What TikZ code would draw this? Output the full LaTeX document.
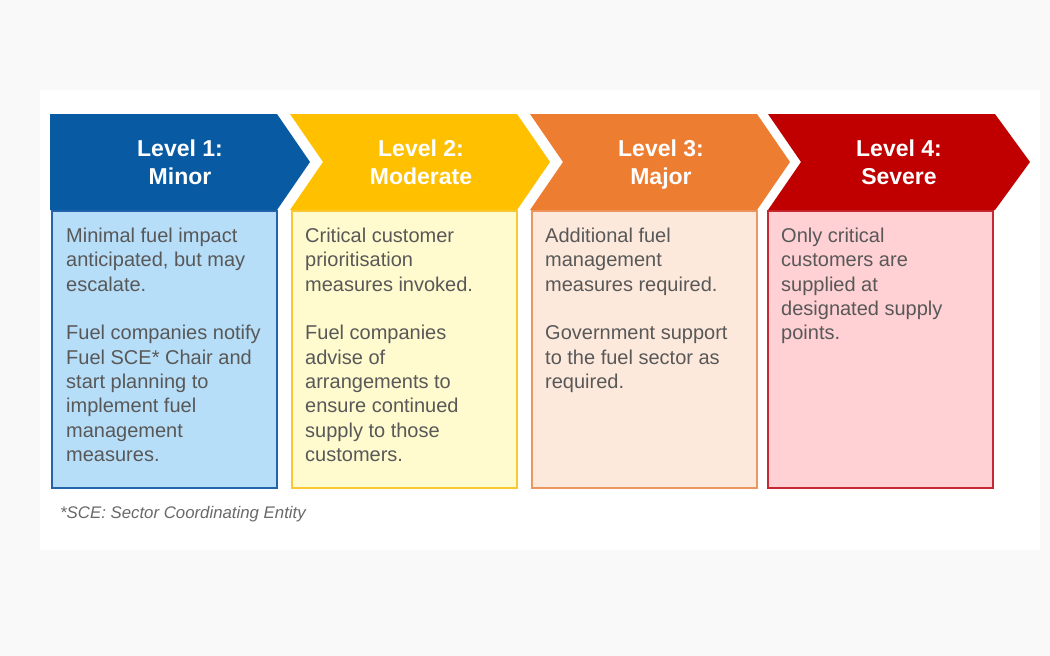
\documentclass[tikz,border=0pt]{standalone}
\usepackage{fontspec}
\setmainfont{Liberation Sans}
\definecolor{pagebg}{RGB}{249,249,250}
\definecolor{h1}{RGB}{8,90,163}
\definecolor{h2}{RGB}{255,192,0}
\definecolor{h3}{RGB}{237,125,49}
\definecolor{h4}{RGB}{192,0,0}
\definecolor{f1}{RGB}{183,222,248}
\definecolor{b1}{RGB}{35,100,170}
\definecolor{f2}{RGB}{255,251,206}
\definecolor{b2}{RGB}{250,200,50}
\definecolor{f3}{RGB}{253,233,220}
\definecolor{b3}{RGB}{238,150,95}
\definecolor{f4}{RGB}{255,208,212}
\definecolor{b4}{RGB}{200,40,50}
\definecolor{txt}{RGB}{88,88,88}
\tikzset{
  infobox/.style={draw, line width=2pt, minimum width=225pt, minimum height=277pt, anchor=north west, inner sep=0pt},
  bodytext/.style={anchor=north west, align=left, inner sep=0pt, text=txt, font=\fontsize{20}{24.3}\selectfont},
  headtext/.style={anchor=north, align=center, inner sep=0pt, text=white, font=\fontsize{23}{28}\selectfont\bfseries},
  foottext/.style={anchor=west, inner sep=0pt, text=txt!90, font=\fontsize{16.8}{20}\selectfont\itshape},
}
\begin{document}
\begin{tikzpicture}[x=1pt,y=-1pt]
\fill[pagebg] (0,0) rectangle (1050,656);
\fill[white] (40,90) rectangle (1040,550);
% boxes
\node[infobox, draw=b1, fill=f1] (box1) at (51,210) {};
\node[infobox, draw=b2, fill=f2] (box2) at (291,210) {};
\node[infobox, draw=b3, fill=f3] (box3) at (531,210) {};
\node[infobox, draw=b4, fill=f4] (box4) at (767,210) {};
% chevrons
\fill[h1] (50,114) -- (277,114) -- (310,162) -- (277,210) -- (50,210) -- cycle;
\fill[h2] (290,114) -- (517,114) -- (550,162) -- (517,210) -- (290,210) -- (323,162) -- cycle;
\fill[h3] (530,114) -- (757,114) -- (790,162) -- (757,210) -- (530,210) -- (563,162) -- cycle;
\fill[h4] (768,114) -- (995,114) -- (1030,162) -- (995,210) -- (768,210) -- (801,162) -- cycle;
% header labels
\node[headtext] (head1) at (180,140) {Level 1:\\Minor};
\node[headtext] (head2) at (421,140) {Level 2:\\Moderate};
\node[headtext] (head3) at (661,140) {Level 3:\\Major};
\node[headtext] (head4) at (899,140) {Level 4:\\Severe};
% body texts
\node[bodytext] (text1) at (66,228) {Minimal fuel impact\\anticipated, but may\\escalate.\\[24.3pt]Fuel companies notify\\Fuel SCE* Chair and\\start planning to\\implement fuel\\management\\measures.};
\node[bodytext] (text2) at (305,228) {Critical customer\\prioritisation\\measures invoked.\\[24.3pt]Fuel companies\\advise of\\arrangements to\\ensure continued\\supply to those\\customers.};
\node[bodytext] (text3) at (545,228) {Additional fuel\\management\\measures required.\\[24.3pt]Government support\\to the fuel sector as\\required.};
\node[bodytext] (text4) at (781,228) {Only critical\\customers are\\supplied at\\designated supply\\points.};
% footnote
\node[foottext] (foot) at (60,514) {*SCE: Sector Coordinating Entity};
\end{tikzpicture}
\end{document}
